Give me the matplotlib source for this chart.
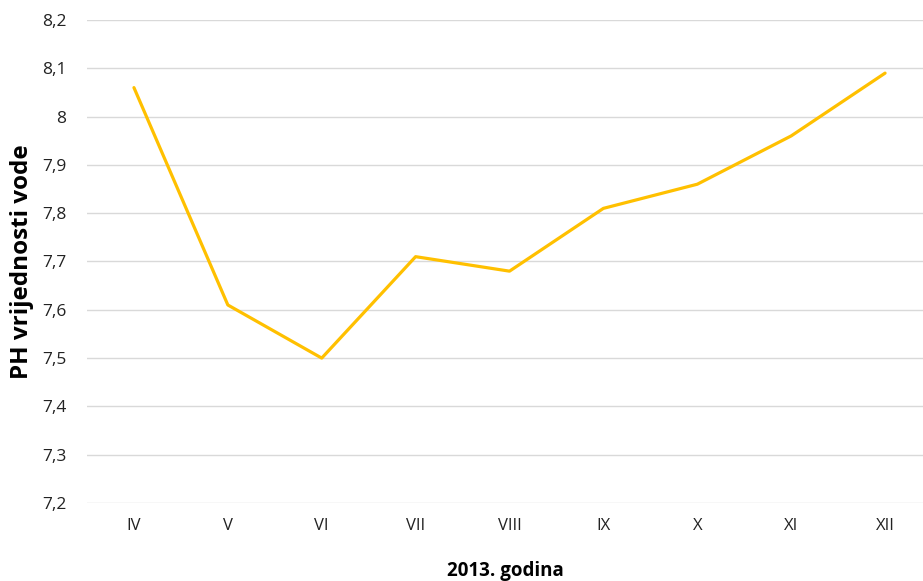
import matplotlib.pyplot as plt

months = ['IV', 'V', 'VI', 'VII', 'VIII', 'IX', 'X', 'XI', 'XII']
ph_values = [8.06, 7.61, 7.50, 7.71, 7.68, 7.81, 7.86, 7.96, 8.09]
y_ticks = [7.2, 7.3, 7.4, 7.5, 7.6, 7.7, 7.8, 7.9, 8.0, 8.1, 8.2]

plt.rcParams['font.family'] = ['Open Sans', 'DejaVu Sans']

fig = plt.figure(figsize=(9.23, 5.81), dpi=100)
ax = fig.add_axes([87 / 923, 78 / 581, 1 - 87 / 923, 483 / 581])

x = list(range(len(months)))
ax.plot(x, ph_values, color='#FFC000', linewidth=2.3, solid_capstyle='round',
        solid_joinstyle='round', zorder=3)

ax.set_ylim(7.2, 8.2)
ax.set_xlim(-0.5, 8.404)
ax.set_yticks(y_ticks)
ax.set_yticklabels([('%g' % v).replace('.', ',') for v in y_ticks], fontsize=12.5, color='#222222')
ax.set_xticks(x)
ax.set_xticklabels(months, fontsize=12, color='#222222')

ax.grid(axis='y', color='#d9d9d9', linewidth=1)
ax.set_axisbelow(True)
for s in ax.spines.values():
    s.set_visible(False)
ax.tick_params(length=0)
ax.tick_params(axis='y', pad=15)
ax.tick_params(axis='x', pad=11)

ax.set_ylabel('PH vrijednosti vode', fontsize=17.5, fontweight='bold')
ax.yaxis.set_label_coords((34 - 87) / 836, 0.5)
ax.set_xlabel('2013. godina', fontsize=13.5, fontweight='bold')
ax.xaxis.set_label_coords(0.5, -(561 - 503) / 483)

fig.savefig('out.png', dpi=100)
